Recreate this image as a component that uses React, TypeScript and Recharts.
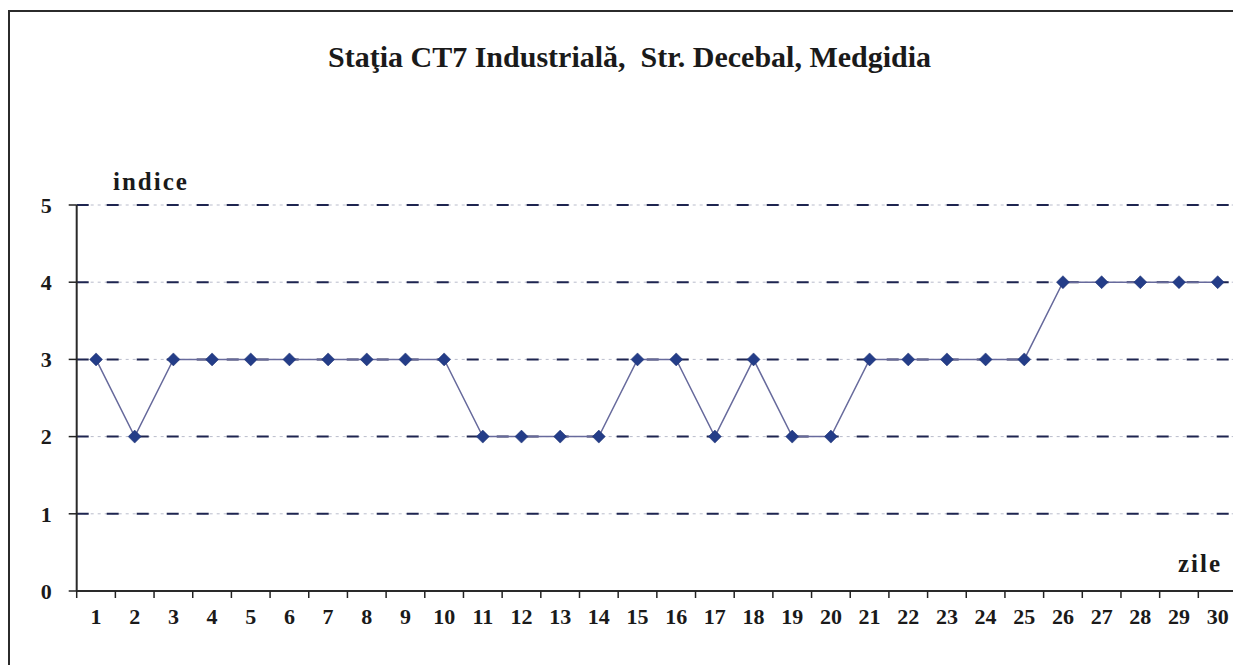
import React from 'react';
import { LineChart, Line, XAxis, YAxis, CartesianGrid } from 'recharts';

// zile (days) and the daily index value
const days = [
  1, 2, 3, 4, 5, 6, 7, 8, 9, 10, 11, 12, 13, 14, 15,
  16, 17, 18, 19, 20, 21, 22, 23, 24, 25, 26, 27, 28, 29, 30,
];
const indexValues = [
  3, 2, 3, 3, 3, 3, 3, 3, 3, 3, 2, 2, 2, 2, 3,
  3, 2, 3, 2, 2, 3, 3, 3, 3, 3, 4, 4, 4, 4, 4,
];
const yTicks = [0, 1, 2, 3, 4, 5];

const data = days.map((d, i) => ({ day: d, indice: indexValues[i] }));

const W = 1262;
const H = 649;
const M = { top: 197, right: 33, bottom: 26, left: 0 };
const Y_W = 68.7;
const PLOT_W = W - M.left - M.right - Y_W;
const HALF = PLOT_W / days.length / 2;

const font = '"Liberation Serif", "Times New Roman", serif';

const DayTick = (props: any) => {
  const { x, y, payload } = props;
  return (
    <g>
      <line x1={x - HALF} x2={x - HALF} y1={y} y2={y + 7} stroke="#222" strokeWidth={1.5} />
      <text x={x} y={y + 33} textAnchor="middle" fontFamily={font} fontWeight="bold" fontSize={22} fill="#1a1a1a">
        {payload.value}
      </text>
    </g>
  );
};

const Diamond = (props: any) => {
  const { cx, cy } = props;
  if (cx == null || cy == null) return null;
  const r = 6.5;
  return (
    <path
      d={`M${cx},${cy - r} L${cx + r},${cy} L${cx},${cy + r} L${cx - r},${cy} Z`}
      fill="#243d88"
      stroke="#1d3070"
      strokeWidth={0.5}
    />
  );
};

export default function App() {
  return (
    <div style={{ position: 'fixed', left: 0, top: 0, width: 1233, height: 665, overflow: 'hidden', background: '#fff' }}>
      <style>{'html, body { overflow: hidden; }'}</style>
      <div
        style={{
          position: 'absolute', left: 8, top: 10, width: 1300, height: 700,
          borderLeft: '2px solid #2b2b2b', borderTop: '2px solid #2b2b2b', boxSizing: 'border-box',
        }}
      />
      <div
        style={{
          position: 'absolute', left: 328, top: 42, fontFamily: font, fontWeight: 'bold',
          fontSize: 30, color: '#1a1a1a', whiteSpace: 'pre', lineHeight: 1,
        }}
      >
        Staţia CT7 Industrială,  Str. Decebal, Medgidia
      </div>
      <div
        style={{
          position: 'absolute', left: 113, top: 169, fontFamily: font, fontWeight: 'bold',
          fontSize: 25, letterSpacing: 2, color: '#1a1a1a', lineHeight: 1,
        }}
      >
        indice
      </div>
      <div
        style={{
          position: 'absolute', left: 1178, top: 551, fontFamily: font, fontWeight: 'bold',
          fontSize: 25, letterSpacing: 2, color: '#1a1a1a', lineHeight: 1,
        }}
      >
        zile
      </div>
      <div style={{ position: 'absolute', left: 8, top: 8 }}>
        <LineChart width={W} height={H} data={data} margin={M}>
          <CartesianGrid horizontal vertical={false} stroke="#b9bccb" strokeDasharray="3 4" strokeWidth={1} />
          <CartesianGrid horizontal vertical={false} stroke="#1e2550" strokeDasharray="12 18" strokeWidth={2} />
          <XAxis
            dataKey="day"
            type="number"
            domain={[0.5, 30.5]}
            ticks={days}
            interval={0}
            tickLine={false}
            tickSize={0}
            tickMargin={0}
            tick={<DayTick />}
            axisLine={{ stroke: '#2a2a2a', strokeWidth: 2 }}
            height={40}
            allowDataOverflow
          />
          <YAxis
            domain={[0, 5]}
            ticks={yTicks}
            interval={0}
            width={Y_W}
            tickSize={8}
            tickMargin={17}
            tickLine={{ stroke: '#222', strokeWidth: 1.5 }}
            axisLine={{ stroke: '#2a2a2a', strokeWidth: 2 }}
            tick={{ fontFamily: font, fontWeight: 'bold', fontSize: 22, fill: '#1a1a1a' }}
          />
          <Line
            type="linear"
            dataKey="indice"
            stroke="#676a9c"
            strokeWidth={1.5}
            dot={<Diamond />}
            activeDot={false}
            isAnimationActive={false}
          />
        </LineChart>
      </div>
    </div>
  );
}
